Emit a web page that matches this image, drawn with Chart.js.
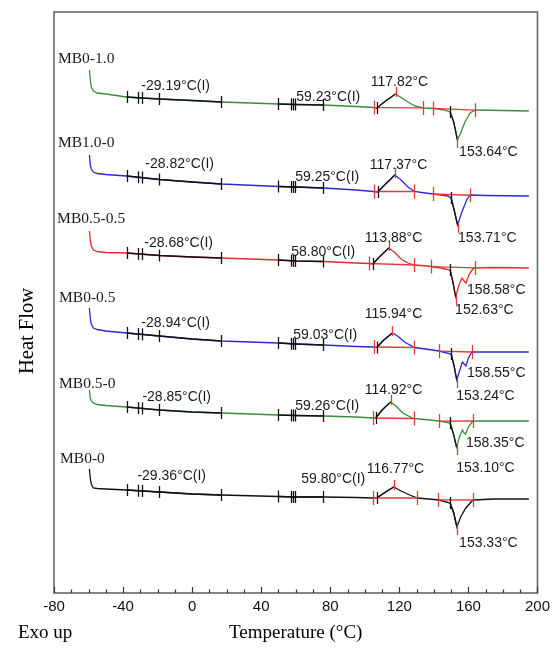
<!DOCTYPE html>
<html>
<head>
<meta charset="utf-8">
<script src="https://cdn.jsdelivr.net/npm/chart.js@4.4.0/dist/chart.umd.min.js"></script>
<style>
  html, body { margin: 0; padding: 0; background: #fff; }
</style>
</head>
<body>
<canvas id="dscChart" width="555" height="648"></canvas>
<script>
// sample names, top curve first
const sampleNames = ['MB0-1.0', 'MB1.0-0', 'MB0.5-0.5', 'MB0-0.5', 'MB0.5-0', 'MB0-0'];
const sampleColors = ['#3d8c3d', '#2a2ad8', '#e32b2b', '#2a2ad8', '#3d8c3d', '#111111'];

// DSC traces: temperature (°C) and heat flow (arb. units, curves offset)
const tempMB0_10 = [-59.5, -59.0, -58.4, -57.2, -55.0, -50, -38, -29, -19, 0, 17, 50, 60, 76, 95, 105, 107, 112, 117.82, 121, 125, 129, 134, 140, 146, 149.4, 151.5, 153.64, 155.5, 158, 161, 164, 180, 195];
const flowMB0_10 = [52.3, 51.4, 50.6, 50.2, 50.0, 49.9, 49.6, 49.5, 49.4, 49.25, 49.1, 48.9, 48.85, 48.8, 48.65, 48.55, 48.5, 49.2, 49.9, 49.55, 49.1, 48.7, 48.5, 48.45, 48.3, 48.1, 47.1, 45.3, 46.0, 47.1, 48.0, 48.3, 48.25, 48.2];

const tempMB10_0 = [-59.5, -59.0, -58.4, -57.2, -55.0, -50, -38, -19, 0, 17, 50, 60, 76, 95, 105, 107.4, 112, 117.37, 121, 125, 128.7, 135, 142, 148, 150, 152, 153.71, 156, 159, 161, 170, 195];
const flowMB10_0 = [43.8, 42.8, 42.4, 42.1, 41.95, 41.85, 41.7, 41.35, 41.1, 40.9, 40.65, 40.6, 40.5, 40.3, 40.15, 40.1, 40.9, 41.8, 41.3, 40.6, 40.15, 40.0, 39.85, 39.7, 39.5, 38.1, 36.8, 38.0, 39.3, 39.8, 39.75, 39.7];

const tempMB05_05 = [-59.5, -59.0, -58.4, -57.2, -55.0, -50, -38, -19, 0, 17, 50, 60, 76, 95, 102.3, 104.6, 109, 113.88, 117, 121, 125, 128.7, 136, 144, 149.4, 151, 152.63, 154.5, 156.3, 157.5, 158.58, 160.5, 163, 175, 195];
const flowMB05_05 = [36.2, 35.3, 34.7, 34.3, 34.15, 34.05, 34.0, 33.75, 33.6, 33.5, 33.3, 33.2, 33.15, 33.0, 32.95, 32.9, 33.7, 34.5, 34.1, 33.4, 33.0, 32.8, 32.7, 32.5, 32.3, 31.1, 29.6, 30.8, 31.5, 31.2, 31.0, 31.9, 32.5, 32.55, 32.5];

const tempMB0_05 = [-59.5, -59.0, -58.4, -57.2, -55.0, -50, -38, -19, 0, 17, 50, 60, 76, 95, 105.1, 106.9, 111, 115.94, 119, 123, 128.7, 135, 143, 150, 151.7, 153.24, 155, 156.5, 157.5, 158.55, 160, 162, 175, 195];
const flowMB0_05 = [28.5, 27.5, 26.9, 26.5, 26.35, 26.2, 26.0, 25.7, 25.4, 25.2, 25.0, 24.9, 24.8, 24.65, 24.6, 24.55, 25.3, 26.0, 25.7, 25.1, 24.55, 24.4, 24.2, 23.9, 22.7, 21.3, 22.3, 23.1, 22.9, 22.7, 23.5, 24.1, 24.1, 24.1];

const tempMB05_0 = [-59.5, -59.0, -58.4, -57.2, -55.0, -50, -38, -19, 0, 17, 50, 60, 76, 95, 104.6, 106.3, 110, 114.92, 118, 122, 128.2, 135, 143, 149.4, 151.5, 153.1, 155, 156.5, 157.5, 158.35, 160, 162.6, 175, 195];
const flowMB05_0 = [20.3, 19.5, 19.2, 19.0, 18.85, 18.75, 18.6, 18.3, 18.1, 18.0, 17.8, 17.75, 17.7, 17.6, 17.5, 17.5, 18.3, 19.1, 18.7, 18.0, 17.45, 17.35, 17.2, 17.0, 15.8, 14.6, 15.7, 16.3, 16.0, 15.9, 16.6, 17.2, 17.2, 17.2];

const tempMB0_0 = [-59.5, -59.0, -58.4, -57.2, -55.0, -50, -38, -19, 0, 17, 50, 60, 76, 95, 104.6, 106.9, 112, 116.77, 121, 126, 130.4, 137, 143, 149.4, 151.5, 153.33, 155.5, 158.5, 162.6, 175, 195];
const flowMB0_0 = [12.4, 11.5, 10.9, 10.5, 10.45, 10.4, 10.3, 10.1, 9.9, 9.8, 9.65, 9.6, 9.6, 9.55, 9.5, 9.5, 10.1, 10.6, 10.2, 9.8, 9.5, 9.4, 9.3, 9.0, 8.0, 6.6, 7.6, 8.5, 9.3, 9.4, 9.4];

const temps = [tempMB0_10, tempMB10_0, tempMB05_05, tempMB0_05, tempMB05_0, tempMB0_0];
const flows = [flowMB0_10, flowMB10_0, flowMB05_05, flowMB0_05, flowMB05_0, flowMB0_0];

// glass transition analysis markers (°C), same on every trace
const tgLowMarks = [-38, -31.2, -29.3, -19, 17];
const tgHighMarks = [50, 57.4, 58.6, 59.7, 76];
const tgLowValues = [-29.19, -28.82, -28.68, -28.94, -28.85, -29.36];
const tgHighValues = [59.23, 59.25, 58.80, 59.03, 59.26, 59.80];

// cold crystallisation (exo) and melting (endo) analysis, per trace
const exoStart = [105.1, 105.1, 102.3, 105.1, 104.6, 104.6];
const exoOnset = [106.9, 107.4, 104.6, 106.9, 106.3, 106.9];
const exoPeak = [117.82, 117.37, 113.88, 115.94, 114.92, 116.77];
const exoEnd = [133.9, 128.7, 128.7, 128.7, 128.2, 130.4];
const endoStart = [139.6, 139.6, 138.5, 143.1, 143.1, 142.5];
const endoOnset = [149.4, 150.0, 149.4, 150.0, 149.4, 149.4];
const endoMin = [153.64, 153.71, 152.63, 153.24, 153.10, 153.33];
const endoEnd = [163.8, 160.9, 163.8, 162.1, 162.6, 162.6];
const secondMin = [null, null, 158.58, 158.55, 158.35, null];

// where the texts sit (temperature, heat flow) - left edge, vertical middle
const namePos = [[-77.7, 53.4], [-77.7, 45.0], [-78.2, 37.4], [-77.1, 29.5], [-77.1, 20.9], [-76.5, 13.4]];
const tgLowPos = [[-29.4, 50.7], [-27.1, 42.9], [-27.7, 35.0], [-29.4, 27.0], [-28.8, 19.6], [-31.7, 11.7]];
const tgHighPos = [[60.3, 49.6], [59.7, 41.6], [57.4, 34.1], [58.6, 25.8], [59.7, 18.7], [63.2, 11.4]];
const exoPeakPos = [[103.4, 51.1], [102.9, 42.8], [100.0, 35.5], [100.0, 27.9], [100.0, 20.3], [101.1, 12.4]];
const endoMinPos = [[154.6, 44.1], [154.0, 35.5], [152.3, 28.3], [152.9, 19.7], [152.9, 12.5], [154.6, 5.0]];
const secondMinPos = [null, null, [159.2, 30.3], [159.2, 22.0], [158.6, 15.0], null];

const RED = '#e8383d';
const INK = '#111';

// heat flow on a trace at temperature t (linear between recorded points)
function flowAt(ts, fs, t) {
  for (let i = 1; i < ts.length; i++) {
    if (t <= ts[i]) {
      const k = (t - ts[i - 1]) / (ts[i] - ts[i - 1]);
      return fs[i - 1] + k * (fs[i] - fs[i - 1]);
    }
  }
  return fs[fs.length - 1];
}

// part of a trace between temperatures a and b
function pieceOf(ts, fs, a, b) {
  const pts = [{ x: a, y: flowAt(ts, fs, a) }];
  ts.forEach((t, i) => { if (t > a && t < b) pts.push({ x: t, y: fs[i] }); });
  pts.push({ x: b, y: flowAt(ts, fs, b) });
  return pts;
}

const datasets = [];
temps.forEach((ts, i) => {
  const fs = flows[i];
  datasets.push({
    data: ts.map((t, k) => ({ x: t, y: fs[k] })),
    borderColor: sampleColors[i], borderWidth: 1.3, order: 3
  });
  // black analysed sections
  [[tgLowMarks[0], tgLowMarks[4]], [tgHighMarks[0], tgHighMarks[4]],
   [exoOnset[i], exoPeak[i]], [endoOnset[i], endoMin[i]]].forEach(r => {
    datasets.push({ data: pieceOf(ts, fs, r[0], r[1]), borderColor: INK, borderWidth: 1.3, order: 2 });
  });
  // red baselines
  [[exoStart[i], exoEnd[i]], [endoStart[i], endoEnd[i]]].forEach(r => {
    datasets.push({
      data: [{ x: r[0], y: flowAt(ts, fs, r[0]) }, { x: r[1], y: flowAt(ts, fs, r[1]) }],
      borderColor: RED, borderWidth: 1.3, order: 1
    });
  });
});

const dscDecor = {
  id: 'dscDecor',
  afterDatasetsDraw(chart) {
    const { ctx, scales: { x, y } } = chart;
    ctx.save();
    ctx.lineWidth = 1.3;
    const mark = (ts, fs, t, up, down, color) => {
      const px = x.getPixelForValue(t), py = y.getPixelForValue(flowAt(ts, fs, t));
      ctx.strokeStyle = color;
      ctx.beginPath();
      ctx.moveTo(Math.round(px) + 0.5, py - up);
      ctx.lineTo(Math.round(px) + 0.5, py + down);
      ctx.stroke();
    };
    temps.forEach((ts, i) => {
      const fs = flows[i];
      tgLowMarks.concat(tgHighMarks).forEach(t => mark(ts, fs, t, 6, 6, INK));
      mark(ts, fs, exoStart[i], 7, 7, RED);
      mark(ts, fs, exoOnset[i], 6, 6, INK);
      mark(ts, fs, exoPeak[i], 7, 3, RED);
      mark(ts, fs, exoEnd[i], 7, 7, RED);
      mark(ts, fs, endoStart[i], 7, 7, RED);
      mark(ts, fs, endoOnset[i], 6, 6, INK);
      mark(ts, fs, endoMin[i], 2, 8, RED);
      mark(ts, fs, endoEnd[i], 7, 7, RED);
    });
    ctx.restore();
  },
  afterDraw(chart) {
    const { ctx, chartArea: a, scales: { x, y } } = chart;
    ctx.save();
    // frame
    ctx.strokeStyle = '#6a6a6a';
    ctx.lineWidth = 1.6;
    ctx.strokeRect(a.left, a.top, a.right - a.left, a.bottom - a.top);
    // inward ticks on the temperature axis
    ctx.strokeStyle = '#333';
    ctx.lineWidth = 1.2;
    for (let t = -80; t <= 200; t += 10) {
      const px = Math.round(x.getPixelForValue(t)) + 0.5;
      const len = t % 40 === 0 ? 6 : 3.5;
      ctx.beginPath(); ctx.moveTo(px, a.bottom); ctx.lineTo(px, a.bottom - len); ctx.stroke();
    }
    // texts on the traces
    ctx.textBaseline = 'middle';
    ctx.textAlign = 'left';
    const put = (txt, p) => {
      if (!p) return;
      ctx.fillText(txt, x.getPixelForValue(p[0]), y.getPixelForValue(p[1]));
    };
    ctx.fillStyle = '#1a1a1a';
    ctx.font = '15.5px "Liberation Serif", "Times New Roman", serif';
    sampleNames.forEach((n, i) => put(n, namePos[i]));
    ctx.font = '14px "Liberation Sans", Arial, sans-serif';
    sampleNames.forEach((n, i) => {
      put(tgLowValues[i].toFixed(2) + '°C(I)', tgLowPos[i]);
      put(tgHighValues[i].toFixed(2) + '°C(I)', tgHighPos[i]);
      put(exoPeak[i].toFixed(2) + '°C', exoPeakPos[i]);
      put(endoMin[i].toFixed(2) + '°C', endoMinPos[i]);
      if (secondMin[i] !== null) put(secondMin[i].toFixed(2) + '°C', secondMinPos[i]);
    });
    // axis titles
    ctx.fillStyle = '#000';
    ctx.font = '19px "Liberation Serif", "Times New Roman", serif';
    ctx.textAlign = 'center';
    ctx.fillText('Temperature (°C)', (a.left + a.right) / 2, a.bottom + 40);
    ctx.textAlign = 'left';
    ctx.fillText('Exo up', 18, a.bottom + 40);
    ctx.font = '20.5px "Liberation Serif", "Times New Roman", serif';
    ctx.translate(28, 331);
    ctx.rotate(-Math.PI / 2);
    ctx.textAlign = 'center';
    ctx.fillText('Heat Flow', 0, 0);
    ctx.restore();
  }
};

new Chart(document.getElementById('dscChart').getContext('2d'), {
  type: 'scatter',
  data: { datasets: datasets },
  options: {
    responsive: false,
    animation: false,
    devicePixelRatio: 1,
    showLine: true,
    elements: { point: { radius: 0, hoverRadius: 0 }, line: { tension: 0 } },
    layout: { padding: { left: 54, right: 15, top: 12, bottom: 0 } },
    plugins: { legend: { display: false }, tooltip: { enabled: false } },
    scales: {
      x: {
        type: 'linear', min: -80, max: 200,
        grid: { display: false, drawTicks: false },
        border: { display: false },
        ticks: {
          stepSize: 40, autoSkip: false, maxRotation: 0, padding: 5, color: '#111',
          font: { family: '"Liberation Sans", Arial, sans-serif', size: 15 }
        },
        afterFit: s => { s.height = 55; }
      },
      y: { type: 'linear', min: 0, max: 58.1, display: false }
    }
  },
  plugins: [dscDecor]
});
</script>
</body>
</html>
